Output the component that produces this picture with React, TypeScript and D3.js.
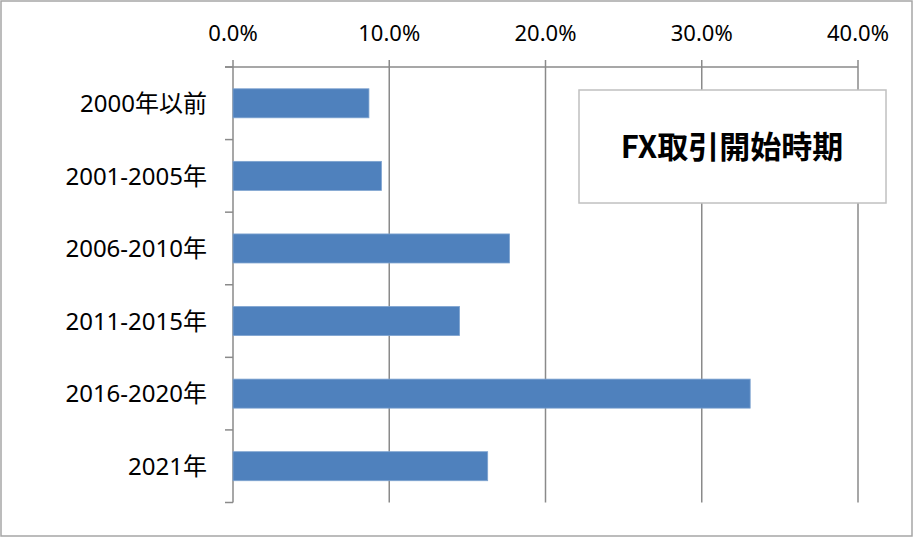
import React from "react";
import * as d3 from "d3";

const categories = ["2000年以前", "2001-2005年", "2006-2010年", "2011-2015年", "2016-2020年", "2021年"];
const values = [8.7, 9.5, 17.7, 14.5, 33.1, 16.3];
const xTicks = [0, 10, 20, 30, 40];
const title = "FX取引開始時期";

export default function App() {
  const W = 913, H = 537;
  const x = d3.scaleLinear().domain([0, 40]).range([233, 858]);
  const y = d3.scaleBand<string>().domain(categories).range([67, 502.5]).paddingInner(0.6).paddingOuter(0.3);
  const step = y.step();
  const font = "'Noto Sans', 'Noto Sans CJK JP', sans-serif";
  const grid = "#8a8a8a";
  return (
    <div>
      <style>{`body{margin:0}`}</style>
      <svg width={W} height={H} style={{ display: "block" }}>
        <rect x={1} y={1} width={W - 2} height={H - 2} fill="#fff" stroke="#a6a6a6" strokeWidth={1.5} />
        {xTicks.map((t) => (
          <g key={t}>
            <line x1={x(t)} x2={x(t)} y1={60} y2={502.5} stroke={grid} strokeWidth={1.5} />
            <text x={x(t)} y={41} textAnchor="middle" fontFamily={font} fontSize={22} fill="#000">
              {t.toFixed(1) + "%"}
            </text>
          </g>
        ))}
        <line x1={225} x2={x(40)} y1={67} y2={67} stroke={grid} strokeWidth={1.5} />
        {d3.range(categories.length + 1).map((i) => (
          <line key={i} x1={225} x2={233} y1={67 + i * step} y2={67 + i * step} stroke={grid} strokeWidth={1.5} />
        ))}
        {categories.map((c, i) => (
          <g key={c}>
            <rect
              x={x(0)}
              y={y(c)!}
              width={x(values[i]) - x(0)}
              height={y.bandwidth()}
              fill="#4F81BD"
              stroke="#7ea3d0"
              strokeWidth={0.8}
            />
            <text
              x={207}
              y={y(c)! + y.bandwidth() / 2}
              dy="0.36em"
              textAnchor="end"
              fontFamily={font}
              fontSize={24}
              fill="#000"
            >
              {c}
            </text>
          </g>
        ))}
        <rect x={579} y={90} width={307} height={113} fill="#fff" stroke="#c0c0c0" strokeWidth={1.5} />
        <text
          x={732}
          y={147}
          dy="0.36em"
          textAnchor="middle"
          fontFamily="'Noto Sans CJK JP', 'Noto Sans', sans-serif"
          fontWeight="bold"
          fontSize={31}
          fill="#000"
        >
          {title}
        </text>
      </svg>
    </div>
  );
}
